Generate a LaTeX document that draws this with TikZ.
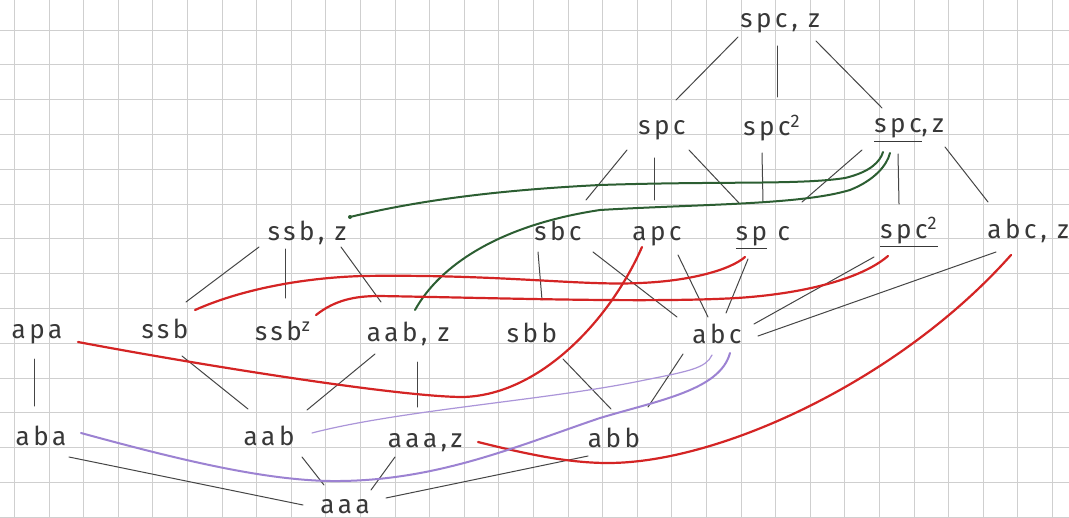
\documentclass[tikz,border=0pt]{standalone}
\usepackage{fontspec}
\newfontfamily\hand{Fira Sans}[LetterSpace=14]
\usetikzlibrary{calc}
\definecolor{inkred}{HTML}{D42424}
\definecolor{inkgreen}{HTML}{2C5E32}
\definecolor{inkpurple}{HTML}{9C82D2}
\definecolor{inkgray}{HTML}{454545}
\definecolor{gridgray}{HTML}{CFCFCF}
\tikzset{
  lbl/.style={font={\fontsize{13}{15}\selectfont\hand}, text=black!78, inner sep=0pt, anchor=base},
  edge/.style={draw=inkgray, line width=0.5pt, line cap=round},
  redc/.style={draw=inkred, line width=1.1pt, line cap=round},
  greenc/.style={draw=inkgreen, line width=1.0pt, line cap=round},
  purplec/.style={draw=inkpurple, line width=1.0pt, line cap=round},
  purplethin/.style={draw=inkpurple!85, line width=0.6pt, line cap=round},
  gridline/.style={draw=gridgray, line width=0.35pt}
}
\newcommand\lnk[4]{\draw[edge] ($(#1.base)+#2$) -- ($(#3.base)+#4$);}
\begin{document}
\begin{tikzpicture}[x=0.5pt,y=-0.5pt]
\useasboundingbox (0,0) rectangle (1069,518);
\fill[white] (0,0) rectangle (1069,518);
% graph paper
\foreach \i in {0,...,30} {\draw[gridline] (14.4+34.6*\i,0) -- (14.4+34.6*\i,518);}
\foreach \j in {0,...,14} {\draw[gridline] (0,30+34.8*\j) -- (1069,30+34.8*\j);}
% nodes
\node[lbl] (spcz)   at (780,28)  {spc, z};
\node[lbl] (spc)    at (662,135) {spc};
\node[lbl] (spcsq)  at (772,136) {spc\textsuperscript{2}};
\node[lbl] (spczb)  at (909,133) {\underline{spc},\,z};
\node[lbl] (ssbz)   at (307,240) {ssb, z};
\node[lbl] (sbc)    at (558,240) {sbc};
\node[lbl] (apc)    at (657,240) {apc};
\node[lbl] (spuc)   at (763,240) {\underline{sp} c};
\node[lbl] (spcsqu) at (909,238) {\underline{spc\textsuperscript{2}}};
\node[lbl] (abcz)   at (1028,238) {abc, z};
\node[lbl] (apa)    at (37,338)  {apa};
\node[lbl] (ssb)    at (165,338) {ssb};
\node[lbl] (ssbsup) at (283,340) {ssb\textsuperscript{z}};
\node[lbl] (aabz)   at (408,341) {aab, z};
\node[lbl] (sbb)    at (532,342) {sbb};
\node[lbl] (abc)    at (717,343) {abc};
\node[lbl] (aba)    at (41,445)  {aba};
\node[lbl] (aab)    at (269,445) {aab};
\node[lbl] (aaaz)   at (425,447) {aaa,z};
\node[lbl] (abb)    at (614,447) {abb};
\node[lbl] (aaa)    at (345,513) {aaa};
% black connectors
\lnk{spcz}{(-42,9)}{spc}{(14,-35)}
\lnk{spcz}{(-3,18)}{spcsq}{(5,-39)}
\lnk{spcz}{(36,13)}{spczb}{(-27,-25)}
\lnk{spc}{(-35,15)}{sbc}{(28,-40)}
\lnk{spc}{(-8,23)}{apc}{(-3,-40)}
\lnk{spc}{(27,15)}{spuc}{(-24,-37)}
\lnk{spcsq}{(-10,17)}{spuc}{(0,-38)}
\lnk{spczb}{(-47,17)}{spuc}{(39,-38)}
\lnk{spczb}{(-11,21)}{spcsqu}{(-10,-34)}
\lnk{spczb}{(36,14)}{abcz}{(-40,-36)}
\lnk{ssbz}{(-48,7)}{ssb}{(21,-36)}
\lnk{ssbz}{(-22,9)}{ssbsup}{(2,-42)}
\lnk{ssbz}{(34,7)}{aabz}{(-27,-39)}
\lnk{sbc}{(-20,12)}{sbb}{(10,-42)}
\lnk{sbc}{(35,12)}{abc}{(-40,-26)}
\lnk{apc}{(21,15)}{abc}{(-9,-26)}
\lnk{spuc}{(-15,19)}{abc}{(9,-30)}
\lnk{spcsqu}{(-35,19)}{abc}{(37,-19)}
\lnk{abcz}{(-32,14)}{abc}{(41,-7)}
\lnk{apa}{(-3,21)}{aba}{(-7,-39)}
\lnk{ssb}{(17,18)}{aab}{(-21,-36)}
\lnk{aabz}{(-33,13)}{aab}{(38,-35)}
\lnk{aabz}{(9,21)}{aaaz}{(-8,-40)}
\lnk{sbb}{(31,17)}{abb}{(-3,-38)}
\lnk{abc}{(-34,11)}{abb}{(34,-40)}
\lnk{aab}{(33,12)}{aaa}{(-21,-28)}
\lnk{aaaz}{(-30,10)}{aaa}{(26,-23)}
\lnk{aba}{(28,12)}{aaa}{(-42,-8)}
\lnk{abb}{(-26,9)}{aaa}{(41,-15)}
% curve end points
\coordinate (g1s) at ($(ssbz.base)+(43,-23)$);
\coordinate (g1e) at ($(spczb.base)+(-26,19)$);
\coordinate (g2s) at ($(aabz.base)+(7,-31)$);
\coordinate (g2e) at ($(spczb.base)+(-19,20)$);
\coordinate (r1s) at ($(ssb.base)+(30,-28)$);
\coordinate (r1e) at ($(spuc.base)+(-18,17)$);
\coordinate (r2s) at ($(ssbsup.base)+(33,-25)$);
\coordinate (r2e) at ($(spcsqu.base)+(-21,18)$);
\coordinate (r3s) at ($(apa.base)+(41,4)$);
\coordinate (r3e) at ($(apc.base)+(-15,7)$);
\coordinate (r4s) at ($(aaaz.base)+(53,-5)$);
\coordinate (r4e) at ($(abcz.base)+(-17,17)$);
\coordinate (p1s) at ($(aba.base)+(40,-12)$);
\coordinate (p1e) at ($(abc.base)+(13,10)$);
\coordinate (p2s) at ($(aab.base)+(43,-12)$);
\coordinate (p2e) at ($(abc.base)+(-5,12)$);
% green curves
\draw[greenc] (g1s) .. controls (420,200) and (500,190) .. (600,185)
  .. controls (720,181) and (800,185) .. (845,178)
  .. controls (870,172) and (880,162) .. (g1e);
\fill[inkgreen] (g1s) circle (2);
\draw[greenc] (g2s) .. controls (440,265) and (500,225) .. (600,210)
  .. controls (700,204) and (800,205) .. (850,190)
  .. controls (875,180) and (887,165) .. (g2e);
% red curves
\draw[redc] (r1s) .. controls (240,290) and (300,278) .. (362,276)
  .. controls (500,274) and (580,286) .. (640,283)
  .. controls (690,281) and (730,270) .. (r1e);
\draw[redc] (r2s) .. controls (335,300) and (355,296) .. (379,296)
  .. controls (500,298) and (650,303) .. (737,298)
  .. controls (800,294) and (860,280) .. (r2e);
\draw[redc] (r3s) .. controls (200,365) and (400,397) .. (463,397)
  .. controls (540,395) and (610,320) .. (r3e);
\draw[redc] (r4s) .. controls (530,455) and (570,463) .. (608,463)
  .. controls (720,463) and (900,380) .. (r4e);
% purple curves
\draw[purplec] (p1s) .. controls (180,460) and (270,482) .. (340,481)
  .. controls (440,480) and (520,445) .. (600,418)
  .. controls (660,400) and (720,390) .. (p1e);
\draw[purplethin] (p2s) .. controls (400,410) and (550,400) .. (645,380)
  .. controls (690,371) and (706,368) .. (p2e);
\end{tikzpicture}
\end{document}
